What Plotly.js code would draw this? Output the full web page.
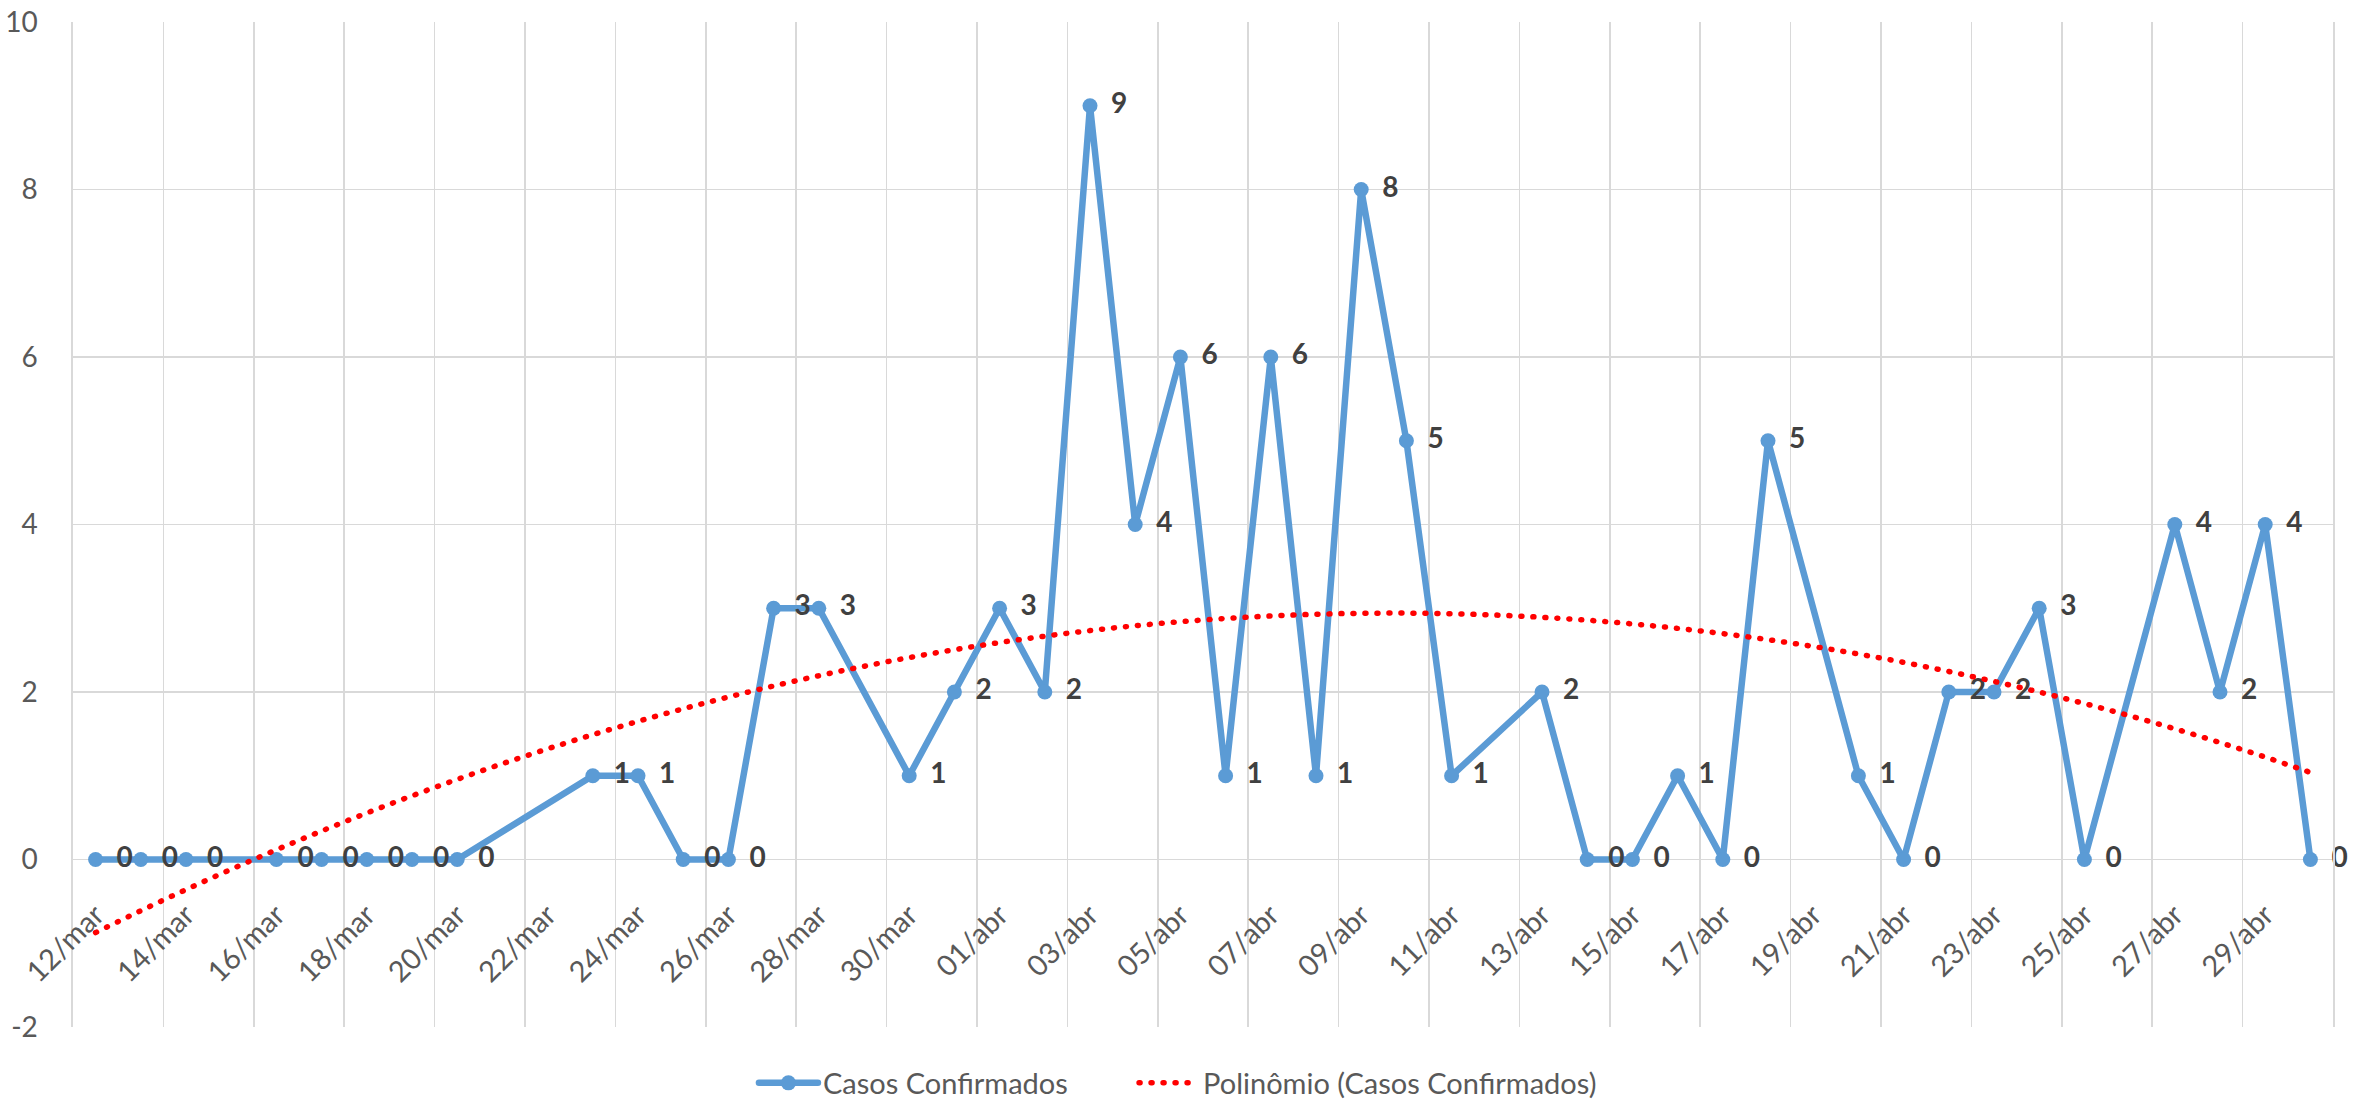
<!DOCTYPE html>
<html>
<head>
<meta charset="utf-8">
<script src="https://cdn.plot.ly/plotly-3.0.1.min.js"></script>
<style>
  html, body { margin: 0; padding: 0; background: #ffffff; }
  #chart { width: 2354px; height: 1103px; }
  path.js-line { stroke-linecap: round !important; stroke-linejoin: round !important; }
</style>
</head>
<body>
<div id="chart"></div>
<script>
// ---- Data ----
const dates = [
  '2020-03-12','2020-03-13','2020-03-14','2020-03-16','2020-03-17','2020-03-18','2020-03-19','2020-03-20',
  '2020-03-23','2020-03-24','2020-03-25','2020-03-26','2020-03-27','2020-03-28','2020-03-30','2020-03-31',
  '2020-04-01','2020-04-02','2020-04-03','2020-04-04','2020-04-05','2020-04-06','2020-04-07','2020-04-08',
  '2020-04-09','2020-04-10','2020-04-11','2020-04-13','2020-04-14','2020-04-15','2020-04-16','2020-04-17',
  '2020-04-18','2020-04-20','2020-04-21','2020-04-22','2020-04-23','2020-04-24','2020-04-25','2020-04-27',
  '2020-04-28','2020-04-29','2020-04-30'
];
const casos = [
  0,0,0,0,0,0,0,0,
  1,1,0,0,3,3,1,2,
  3,2,9,4,6,1,6,1,
  8,5,1,2,0,0,1,0,
  5,1,0,2,2,3,0,4,
  2,4,0
];
const tickDates = [
  '2020-03-12','2020-03-14','2020-03-16','2020-03-18','2020-03-20','2020-03-22','2020-03-24','2020-03-26',
  '2020-03-28','2020-03-30','2020-04-01','2020-04-03','2020-04-05','2020-04-07','2020-04-09','2020-04-11',
  '2020-04-13','2020-04-15','2020-04-17','2020-04-19','2020-04-21','2020-04-23','2020-04-25','2020-04-27',
  '2020-04-29'
];
const tickLabels = [
  '12/mar','14/mar','16/mar','18/mar','20/mar','22/mar','24/mar','26/mar',
  '28/mar','30/mar','01/abr','03/abr','05/abr','07/abr','09/abr','11/abr',
  '13/abr','15/abr','17/abr','19/abr','21/abr','23/abr','25/abr','27/abr',
  '29/abr'
];
const yTickVals = [-2, 0, 2, 4, 6, 8, 10];
const yTickLabels = ['-2', '0', '2', '4', '6', '8', '10'];
const serieNome = 'Casos Confirmados';
const trendNome = 'Polinômio (Casos Confirmados)';

// ---- Polynomial (order 2) trendline, least squares on the data, like Excel ----
const DAY = 86400000;
const t0 = Date.parse(dates[0] + 'T00:00:00Z');
const xs = dates.map(d => (Date.parse(d + 'T00:00:00Z') - t0) / DAY);
function fitQuad(x, y) {
  let S = [0,0,0,0,0], T = [0,0,0];
  for (let i = 0; i < x.length; i++) {
    let p = 1;
    for (let k = 0; k < 5; k++) { S[k] += p; if (k < 3) T[k] += p * y[i]; p *= x[i]; }
  }
  const A = [[S[0],S[1],S[2],T[0]],[S[1],S[2],S[3],T[1]],[S[2],S[3],S[4],T[2]]];
  for (let c = 0; c < 3; c++) {
    for (let r = c + 1; r < 3; r++) {
      const f = A[r][c] / A[c][c];
      for (let k = c; k < 4; k++) A[r][k] -= f * A[c][k];
    }
  }
  const b = [0,0,0];
  for (let r = 2; r >= 0; r--) {
    let s = A[r][3];
    for (let k = r + 1; k < 3; k++) s -= A[r][k] * b[k];
    b[r] = s / A[r][r];
  }
  return b;
}
const coef = fitQuad(xs, casos);
const lastDay = xs[xs.length - 1];
const trendX = [], trendY = [];
for (let d = 0; d <= lastDay; d++) {
  trendX.push(new Date(t0 + d * DAY).toISOString().slice(0, 10));
  trendY.push(coef[0] + coef[1] * d + coef[2] * d * d);
}

const FONT = 'Lato, "Open Sans", sans-serif';
const GRID = '#d9d9d9';

const traces = [
  {
    x: dates, y: casos, name: serieNome, type: 'scatter', mode: 'lines+markers',
    line: { color: '#5b9bd5', width: 6.5 },
    marker: { color: '#5b9bd5', size: 15 },
    legend: 'legend',
    hoverinfo: 'skip'
  },
  {
    x: dates, y: casos, type: 'scatter', mode: 'markers+text', showlegend: false,
    text: casos.map(String), textposition: 'middle right',
    textfont: { family: FONT, size: 28, color: '#404040', weight: 'bold' },
    marker: { size: 32, color: 'rgba(0,0,0,0)' },
    cliponaxis: false,
    hoverinfo: 'skip'
  },
  {
    x: trendX, y: trendY, name: trendNome, type: 'scatter', mode: 'lines',
    line: { color: '#ff0000', width: 5.5, dash: '1px,11px', shape: 'spline' },
    legend: 'legend2',
    hoverinfo: 'skip'
  }
];

const legendBase = {
  orientation: 'h', xanchor: 'left', y: -0.0557, yanchor: 'middle',
  font: { family: FONT, size: 29, color: '#595959' },
  itemwidth: 59, bgcolor: 'rgba(0,0,0,0)'
};

const layout = {
  width: 2354, height: 1103,
  paper_bgcolor: '#ffffff', plot_bgcolor: '#ffffff',
  margin: { l: 73, r: 21, t: 22, b: 76, autoexpand: false },
  font: { family: FONT, size: 28, color: '#595959' },
  showlegend: true,
  legend: Object.assign({}, legendBase, { x: 0.3013 }),
  legend2: Object.assign({}, legendBase, { x: 0.4695 }),
  xaxis: {
    type: 'date',
    range: ['2020-03-11 12:00', '2020-04-30 12:00'],
    anchor: 'free', position: 1 / 6,
    tickmode: 'array', tickvals: tickDates, ticktext: tickLabels,
    tickangle: -45,
    showgrid: false, zeroline: false, showline: false,
    ticks: 'outside', ticklen: 26, tickcolor: 'rgba(0,0,0,0)',
    tickfont: { family: FONT, size: 29, color: '#595959' },
    minor: {
      tickmode: 'linear', tick0: '2020-03-11 12:00', dtick: 2 * DAY,
      showgrid: true, gridcolor: GRID, gridwidth: 1.6, ticks: ''
    },
    fixedrange: true
  },
  yaxis: {
    range: [-2, 10],
    tickmode: 'array', tickvals: yTickVals, ticktext: yTickLabels,
    showgrid: true, gridcolor: GRID, gridwidth: 1.6,
    zeroline: true, zerolinecolor: GRID, zerolinewidth: 1.6,
    showline: true, linecolor: GRID, linewidth: 1.6, mirror: true,
    ticks: '',
    ticklabelstandoff: 28,
    tickfont: { family: FONT, size: 28, color: '#595959' },
    fixedrange: true
  }
};

Plotly.newPlot('chart', traces, layout, { displayModeBar: false, staticPlot: true });
</script>
</body>
</html>
